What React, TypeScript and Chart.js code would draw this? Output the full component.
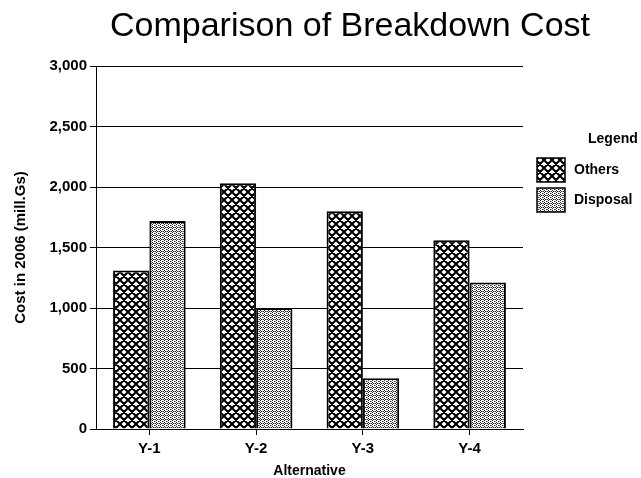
import React, { useEffect, useRef } from "react";
import { Chart, registerables } from "chart.js";

Chart.register(...registerables);

const categories = ["Y-1", "Y-2", "Y-3", "Y-4"];
const othersCost = [1310, 2030, 1800, 1560];
const disposalCost = [1720, 1000, 420, 1210];
const seriesNames = ["Others", "Disposal"];
const yMax = 3000;
const yStep = 500;

const FONT = '"Liberation Sans", Arial, Helvetica, sans-serif';

function crossHatch(): CanvasPattern | string {
  const s = 8;
  const c = document.createElement("canvas");
  c.width = s;
  c.height = s;
  const g = c.getContext("2d");
  if (!g) return "#000";
  g.fillStyle = "#fff";
  g.fillRect(0, 0, s, s);
  g.strokeStyle = "#000";
  g.lineWidth = 2.1;
  g.beginPath();
  for (let k = -1; k <= 1; k++) {
    g.moveTo(0, k * s);
    g.lineTo(s, s + k * s);
    g.moveTo(0, s + k * s);
    g.lineTo(s, k * s);
  }
  g.stroke();
  return g.createPattern(c, "repeat") || "#000";
}

function stipple(): CanvasPattern | string {
  const s = 4;
  const c = document.createElement("canvas");
  c.width = s;
  c.height = s;
  const g = c.getContext("2d");
  if (!g) return "#bbb";
  g.fillStyle = "#fff";
  g.fillRect(0, 0, s, s);
  g.fillStyle = "#222";
  const dots = [
    [0, 0],
    [2, 1],
    [0, 2],
    [3, 3],
    [1, 3],
  ];
  dots.forEach(([x, y]) => g.fillRect(x, y, 1, 1));
  g.fillStyle = "#999";
  g.fillRect(2, 3, 1, 1);
  g.fillRect(3, 1, 1, 1);
  return g.createPattern(c, "repeat") || "#bbb";
}

const titlePlugin = {
  id: "chartHeading",
  afterDraw(chart: Chart) {
    const ctx = chart.ctx;
    ctx.save();
    ctx.fillStyle = "#000";
    ctx.font = `34px ${FONT}`;
    ctx.textAlign = "center";
    ctx.textBaseline = "alphabetic";
    ctx.fillText("Comparison of Breakdown Cost", 350, 36);
    ctx.restore();
  },
};

const legendPlugin = {
  id: "sideLegend",
  afterDraw(chart: Chart) {
    const ctx = chart.ctx;
    ctx.save();
    ctx.fillStyle = "#000";
    ctx.font = `bold 14px ${FONT}`;
    ctx.textAlign = "left";
    ctx.textBaseline = "middle";
    ctx.fillText("Legend", 588, 139);
    chart.data.datasets.forEach((ds, i) => {
      const top = 158 + i * 30;
      ctx.fillStyle = ds.backgroundColor as any;
      ctx.fillRect(537, top, 28, 24);
      ctx.strokeStyle = "#000";
      ctx.lineWidth = 1.5;
      ctx.strokeRect(537, top, 28, 24);
      ctx.fillStyle = "#000";
      ctx.fillText(String(ds.label), 574, top + 12);
    });
    ctx.restore();
  },
};

export default function App() {
  const ref = useRef<HTMLCanvasElement | null>(null);

  useEffect(() => {
    document.body.style.margin = "0";
    const canvas = ref.current;
    if (!canvas) return;
    const chart = new Chart(canvas, {
      type: "bar",
      data: {
        labels: categories,
        datasets: [
          {
            label: seriesNames[0],
            data: othersCost,
            backgroundColor: crossHatch() as any,
            borderColor: "#000",
            borderWidth: 2,
          },
          {
            label: seriesNames[1],
            data: disposalCost,
            backgroundColor: stipple() as any,
            borderColor: "#000",
            borderWidth: 2,
          },
        ],
      },
      options: {
        animation: false,
        responsive: true,
        maintainAspectRatio: false,
        datasets: { bar: { categoryPercentage: 0.68, barPercentage: 1 } },
        layout: { padding: { top: 66, right: 118, bottom: 0, left: 0 } },
        plugins: {
          legend: { display: false },
          title: { display: false },
          tooltip: { enabled: false },
        },
        scales: {
          x: {
            afterFit: (s: any) => {
              s.height = 49;
            },
            grid: {
              offset: false,
              drawOnChartArea: false,
              tickLength: 6,
              color: "#000",
            },
            border: { display: true, color: "#000", width: 1 },
            ticks: {
              color: "#000",
              padding: 5,
              font: { family: FONT, size: 15, weight: "bold" },
            },
            title: {
              display: true,
              text: "Alternative",
              color: "#000",
              padding: { top: 0, bottom: -2 },
              font: { family: FONT, size: 14, weight: "bold" },
            },
          },
          y: {
            min: 0,
            max: yMax,
            afterFit: (s: any) => {
              s.width = 96;
            },
            grid: { color: "#000", lineWidth: 1, tickLength: 6 },
            border: { display: true, color: "#000", width: 1 },
            ticks: {
              stepSize: yStep,
              color: "#000",
              padding: 3,
              font: { family: FONT, size: 15, weight: "bold" },
              callback: (v: any) => Number(v).toLocaleString("en-US"),
            },
            title: {
              display: true,
              text: "Cost in 2006 (mill.Gs)",
              color: "#000",
              padding: { top: 12, bottom: 0 },
              font: { family: FONT, size: 15, weight: "bold" },
            },
          },
        },
      },
      plugins: [titlePlugin, legendPlugin],
    });
    return () => chart.destroy();
  }, []);

  return (
    <div style={{ position: "fixed", left: 0, top: 0, width: 641, height: 478, background: "#fff" }}>
      <canvas ref={ref} />
    </div>
  );
}
